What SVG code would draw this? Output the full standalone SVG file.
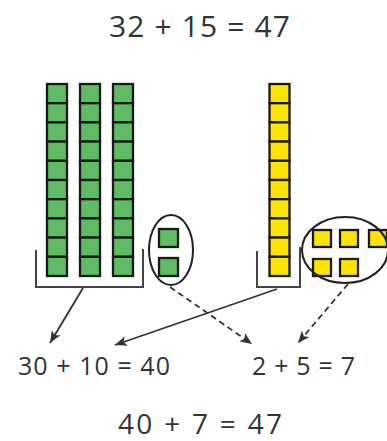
<svg xmlns="http://www.w3.org/2000/svg" width="387" height="441" viewBox="0 0 387 441">
<style>
.cell{stroke:#1a1a1a;stroke-width:2.3}
.green{fill:#5fbb64}
.yellow{fill:#fde300}
.bracket{fill:none;stroke:#444;stroke-width:2}
.loop{fill:none;stroke:#231f20;stroke-width:2}
.arrow{fill:none;stroke:#333;stroke-width:1.8}
.dash{stroke-dasharray:6 4}
.txt{font-family:"Open Sans","Liberation Sans",Arial,sans-serif;fill:#333}
</style>
<defs>
<g id="col">
<rect class="cell" x="0" y="84" width="20" height="19.2"/>
<rect class="cell" x="0" y="103.2" width="20" height="19.2"/>
<rect class="cell" x="0" y="122.4" width="20" height="19.2"/>
<rect class="cell" x="0" y="141.6" width="20" height="19.2"/>
<rect class="cell" x="0" y="160.8" width="20" height="19.2"/>
<rect class="cell" x="0" y="180" width="20" height="19.2"/>
<rect class="cell" x="0" y="199.2" width="20" height="19.2"/>
<rect class="cell" x="0" y="218.4" width="20" height="19.2"/>
<rect class="cell" x="0" y="237.6" width="20" height="19.2"/>
<rect class="cell" x="0" y="256.8" width="20" height="19.2"/>
</g>
<marker id="head" viewBox="0 0 12 10" refX="12" refY="5" markerWidth="12" markerHeight="10" markerUnits="userSpaceOnUse" orient="auto">
<path d="M0,0 L12,5 L0,10 L3,5 z" fill="#333"/>
</marker>
</defs>

<g id="title">
<text class="txt" x="109" y="37" font-size="30" textLength="181" lengthAdjust="spacing">32 + 15 = 47</text>
</g>

<g id="green-tens">
<use href="#col" x="47" class="green"/>
<use href="#col" x="80" class="green"/>
<use href="#col" x="113" class="green"/>
<path class="bracket" d="M36,250 V287 H143 V249"/>
</g>

<g id="green-ones">
<rect class="cell green" x="159" y="229" width="19" height="18"/>
<rect class="cell green" x="159" y="258" width="19" height="18"/>
<ellipse class="loop" cx="171" cy="250" rx="22" ry="35"/>
</g>

<g id="yellow-tens">
<use href="#col" x="269.5" class="yellow"/>
<path class="bracket" d="M257,251 V287 H300 V247"/>
</g>

<g id="yellow-ones">
<rect class="cell yellow" x="313" y="230" width="18" height="17"/>
<rect class="cell yellow" x="340" y="230" width="18" height="17"/>
<rect class="cell yellow" x="369" y="230" width="18" height="17"/>
<rect class="cell yellow" x="313" y="259" width="18" height="17"/>
<rect class="cell yellow" x="340" y="259" width="18" height="17"/>
<ellipse class="loop" cx="345" cy="250" rx="43" ry="33"/>
</g>

<g id="connectors">
<line class="arrow" x1="83" y1="288" x2="50" y2="343" marker-end="url(#head)"/>
<line class="arrow" x1="277" y1="289" x2="115" y2="345" marker-end="url(#head)"/>
<line class="arrow dash" x1="170" y1="287" x2="252" y2="344" marker-end="url(#head)"/>
<line class="arrow dash" x1="348" y1="284" x2="298" y2="343" marker-end="url(#head)"/>
</g>

<g id="tens-sum">
<text class="txt" x="18" y="375" font-size="25" textLength="152" lengthAdjust="spacing">30 + 10 = 40</text>
</g>

<g id="ones-sum">
<text class="txt" x="252" y="375" font-size="25" textLength="103" lengthAdjust="spacing">2 + 5 = 7</text>
</g>

<g id="result">
<text class="txt" x="118" y="434" font-size="28" textLength="164" lengthAdjust="spacing">40 + 7 = 47</text>
</g>
</svg>
